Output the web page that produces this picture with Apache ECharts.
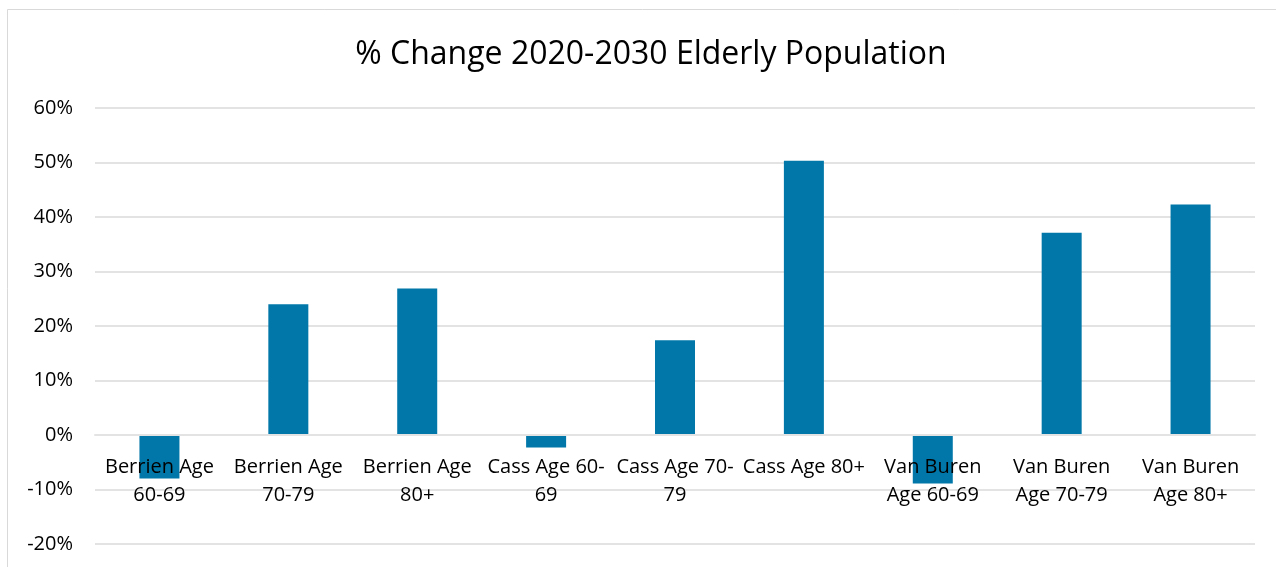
<!DOCTYPE html>
<html>
<head>
<meta charset="utf-8">
<style>
  html, body { margin: 0; padding: 0; background: #fff; }
  #chart { width: 1276px; height: 567px; }
</style>
<script src="https://cdn.jsdelivr.net/npm/echarts@6/dist/echarts.min.js"></script>
</head>
<body>
<div id="chart"></div>
<script>
// Age groups by county
const categories = [
  'Berrien Age 60-69', 'Berrien Age 70-79', 'Berrien Age 80+',
  'Cass Age 60-69', 'Cass Age 70-79', 'Cass Age 80+',
  'Van Buren Age 60-69', 'Van Buren Age 70-79', 'Van Buren Age 80+'
];
// Wrapped tick labels shown under the zero line
const tickLabels = [
  'Berrien Age\n60-69', 'Berrien Age\n70-79', 'Berrien Age\n80+',
  'Cass Age 60-\n69', 'Cass Age 70-\n79', 'Cass Age 80+',
  'Van Buren\nAge 60-69', 'Van Buren\nAge 70-79', 'Van Buren\nAge 80+'
];
// Percent change 2020-2030
const pctChange = [-8.0, 24.0, 26.9, -2.3, 17.4, 50.3, -8.9, 37.1, 42.3];
// Value axis range
const yMin = -20, yMax = 60, yStep = 10;

const FONT = 'Open Sans';
const GRID = { left: 95, right: 21, top: 108, bottom: 23 };
const H = 567;
const plotHeight = H - GRID.top - GRID.bottom;
// lift the category axis from the bottom edge up to the zero line
const zeroOffset = -plotHeight * (0 - yMin) / (yMax - yMin);

const chart = echarts.init(document.getElementById('chart'), null, { renderer: 'canvas' });
chart.setOption({
  backgroundColor: '#ffffff',
  animation: false,
  textStyle: { fontFamily: FONT },
  title: {
    text: '% Change 2020-2030 Elderly Population',
    left: 646,
    textAlign: 'center',
    top: 34,
    textStyle: { fontFamily: FONT, fontSize: 32, fontWeight: 'normal', color: '#000' }
  },
  graphic: [{
    type: 'rect',
    shape: { x: 7.5, y: 9.5, width: 1280, height: 600 },
    style: { fill: 'none', stroke: '#d9d9d9', lineWidth: 1 },
    silent: true
  }],
  grid: Object.assign({ outerBoundsMode: 'none', containLabel: false }, GRID),
  xAxis: {
    type: 'category',
    data: categories,
    position: 'bottom',
    offset: zeroOffset,
    z: 10,
    axisLine: { onZero: false, lineStyle: { color: '#e3e3e3', width: 2 } },
    axisTick: { show: false },
    axisLabel: {
      interval: 0,
      margin: 18,
      fontFamily: FONT,
      fontSize: 20,
      lineHeight: 28,
      color: '#000',
      formatter: (v, i) => tickLabels[i]
    }
  },
  yAxis: {
    type: 'value',
    min: yMin,
    max: yMax,
    interval: yStep,
    axisLine: { show: false },
    axisTick: { show: false },
    splitLine: { lineStyle: { color: '#e3e3e3', width: 2 } },
    axisLabel: {
      fontFamily: FONT,
      fontSize: 20,
      color: '#000',
      margin: 22,
      formatter: v => v + '%'
    }
  },
  series: [{
    type: 'bar',
    data: pctChange,
    barWidth: 40,
    itemStyle: { color: '#0077a8' }
  }]
});
</script>
</body>
</html>
